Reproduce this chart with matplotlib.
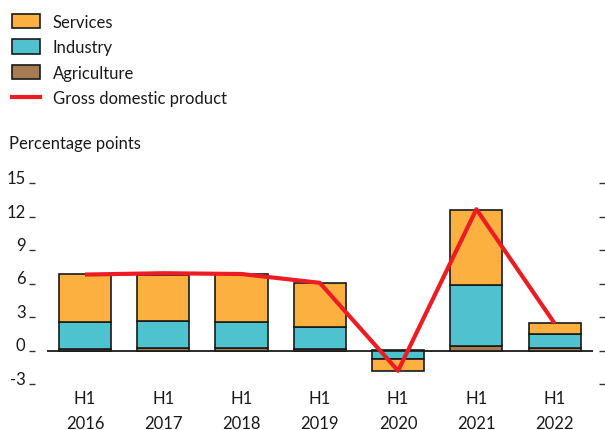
import matplotlib
matplotlib.use("Agg")
import matplotlib.pyplot as plt
import numpy as np
from matplotlib.patches import Patch
from matplotlib.lines import Line2D

periods = ["H1\n2016", "H1\n2017", "H1\n2018", "H1\n2019", "H1\n2020", "H1\n2021", "H1\n2022"]
agriculture = [0.15, 0.18, 0.18, 0.15, 0.05, 0.42, 0.24]
industry = [2.42, 2.48, 2.39, 1.94, -0.78, 5.49, 1.22]
services = [4.30, 4.14, 4.29, 3.97, -1.02, 6.71, 1.02]
gdp = [6.80, 6.92, 6.85, 6.06, -1.82, 12.65, 2.42]
yticks = [-3, 0, 3, 6, 9, 12, 15]

c_serv = "#FBB040"
c_ind = "#4EC3CF"
c_agr = "#A77C52"
c_gdp = "#ED1C24"

plt.rcParams['font.family'] = ['Lato', 'DejaVu Sans']

W, H = 605, 431
fig = plt.figure(figsize=(W / 100, H / 100), dpi=100)
# axes: x from 47 to 593 px, y: -3 at 385 px, 15 at 184 px
ax = fig.add_axes([47 / W, (H - 385) / H, 546 / W, (385 - 184) / H])

x = np.arange(len(periods))
width = 0.665
pos_bottom = np.zeros(len(x))
neg_bottom = np.zeros(len(x))
for vals, col in [(agriculture, c_agr), (industry, c_ind), (services, c_serv)]:
    v = np.array(vals)
    bottom = np.where(v >= 0, pos_bottom, neg_bottom)
    ax.bar(x, v, width, bottom=bottom, color=col, edgecolor="#1a1a1a",
           linewidth=1.2, zorder=2)
    pos_bottom = pos_bottom + np.where(v >= 0, v, 0)
    neg_bottom = neg_bottom + np.where(v < 0, v, 0)

ax.axhline(0, color="#1a1a1a", linewidth=1.3, zorder=1)
ax.plot(x, gdp, color=c_gdp, linewidth=3.0, zorder=3, solid_capstyle="butt")

ax.set_xlim(-0.485, 6.49)
ax.set_ylim(-3, 15)
ax.set_yticks(yticks)
ax.set_yticklabels([str(t) for t in yticks])
ax.set_xticks(x)
ax.set_xticklabels(periods, linespacing=1.75)

for s in ["top", "bottom", "left", "right"]:
    ax.spines[s].set_visible(False)
ax.spines["left"].set_position(("outward", 8.6))
ax.spines["right"].set_position(("outward", 4.5))

ax.tick_params(axis="y", which="both", left=True, right=True, labelleft=True,
               labelright=False, length=4.3, width=1, color="#333333",
               pad=2.5, labelsize=12, labelcolor="#1a1a1a")
ax.tick_params(axis="x", length=0, pad=4.1, labelsize=12, labelcolor="#1a1a1a")

handles = [
    Patch(facecolor=c_serv, edgecolor="#1a1a1a", linewidth=1.2, label="Services"),
    Patch(facecolor=c_ind, edgecolor="#1a1a1a", linewidth=1.2, label="Industry"),
    Patch(facecolor=c_agr, edgecolor="#1a1a1a", linewidth=1.2, label="Agriculture"),
    Line2D([0], [0], color=c_gdp, linewidth=3.0, label="Gross domestic product"),
]
leg = fig.legend(handles=handles, loc="upper left", bbox_to_anchor=(12 / W, 1 - 15 / H),
                 frameon=False, fontsize=12, handlelength=1.66, handleheight=0.94,
                 handletextpad=0.78, labelspacing=0.56, borderpad=0, borderaxespad=0)
for t in leg.get_texts():
    t.set_color("#1a1a1a")

fig.text(9 / W, 1 - 144 / H, "Percentage points", fontsize=12, color="#1a1a1a",
         ha="left", va="center")

# y tick labels sit on the tick (baseline aligned), as in the reference
for tick in ax.yaxis.get_major_ticks():
    tick.label1.set_verticalalignment("baseline")

fig.savefig("out.png", dpi=100)
